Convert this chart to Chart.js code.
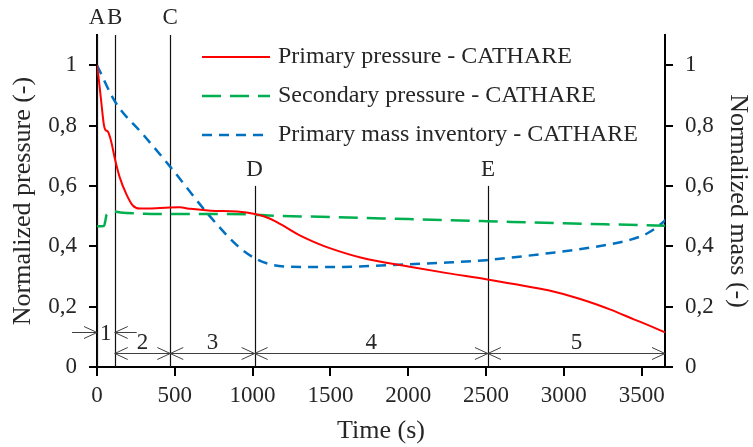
<!DOCTYPE html>
<html>
<head>
<meta charset="utf-8">
<script src="https://cdn.jsdelivr.net/npm/chart.js@4/dist/chart.umd.min.js"></script>
<style>
  html, body { margin:0; padding:0; background:#fff; }
</style>
</head>
<body>
<canvas id="chart" width="753" height="447"></canvas>
<script>

const FONT = "'Liberation Serif', 'Times New Roman', serif";
const INK = "#262626";

/* primary pressure (left axis) */
const timeP = [0, 10, 25, 45, 55, 70, 90, 115, 145, 190, 230, 275, 380, 530, 600, 730, 900, 1015, 1080, 1150, 1220, 1300, 1400, 1500, 1700, 2000, 2250, 2500, 2700, 2900, 3100, 3300, 3450, 3550, 3650];
const primaryP = [1.0, 0.96, 0.89, 0.80, 0.785, 0.78, 0.75, 0.69, 0.63, 0.571, 0.535, 0.525, 0.526, 0.529, 0.524, 0.518, 0.515, 0.507, 0.498, 0.482, 0.461, 0.437, 0.413, 0.393, 0.362, 0.333, 0.311, 0.291, 0.273, 0.254, 0.226, 0.19, 0.158, 0.137, 0.115];

/* secondary pressure (left axis) */
const timeS = [0, 45, 52, 62, 110, 150, 300, 500, 800, 1000, 1100, 1500, 2000, 2500, 3000, 3500, 3650];
const secondaryP = [0.466, 0.467, 0.48, 0.505, 0.515, 0.512, 0.508, 0.507, 0.507, 0.505, 0.502, 0.497, 0.49, 0.483, 0.476, 0.47, 0.468];

/* primary mass inventory (right axis) */
const timeM = [0, 115, 300, 470, 700, 900, 1015, 1100, 1250, 1500, 1900, 2250, 2500, 2900, 3200, 3430, 3540, 3620, 3660];
const massInv = [1.0, 0.88, 0.768, 0.664, 0.515, 0.403, 0.36, 0.342, 0.332, 0.331, 0.338, 0.346, 0.354, 0.377, 0.398, 0.422, 0.444, 0.472, 0.49];

/* axes */
const xTicks = [0, 500, 1000, 1500, 2000, 2500, 3000, 3500];
const yTicks = [0, 0.2, 0.4, 0.6, 0.8, 1];
const yTickLabels = ["0", "0,2", "0,4", "0,6", "0,8", "1"];

/* events and phases */
const eventNames = ["A", "B", "C", "D", "E"];
const eventTimes = [0, 114, 471, 1013, 2512];
const phaseNames = ["1", "2", "3", "4", "5"];
const endTime = 3650;

function pairs(ts, vs){
   return ts.map(function(t, i){ return { x: t, y: vs[i] }; });
}

const eventLines = {

   id: "eventLines",

   beforeDatasetsDraw(chart){

      const { ctx, scales: { x, y } } = chart;

      ctx.save();
      ctx.strokeStyle = "#111";
      ctx.lineWidth = 1.2;

      eventTimes.forEach(function(t, i){
         const px = Math.round(x.getPixelForValue(t)) + 0.5;
         /* D and E lines start lower, under their letters */
         const top = i < 3 ? y.getPixelForValue(1.1) : y.getPixelForValue(0.6);
         ctx.beginPath();
         ctx.moveTo(px, top);
         ctx.lineTo(px, y.getPixelForValue(0));
         ctx.stroke();
      });

      ctx.restore();

   },

   afterDatasetsDraw(chart){

      const { ctx, scales: { x, y } } = chart;

      ctx.save();

      /* event letters */
      ctx.fillStyle = INK;
      ctx.font = "23px " + FONT;
      ctx.textAlign = "center";
      ctx.textBaseline = "middle";

      eventTimes.forEach(function(t, i){
         const ly = i < 3 ? y.getPixelForValue(1.155) : y.getPixelForValue(0.652);
         ctx.fillText(eventNames[i], x.getPixelForValue(t), ly);
      });

      /* phase arrows */
      ctx.strokeStyle = "#404040";
      ctx.lineWidth = 1;

      function head(px, py, dir){
         ctx.beginPath();
         ctx.moveTo(px - dir * 13, py - 6);
         ctx.lineTo(px, py);
         ctx.lineTo(px - dir * 13, py + 6);
         ctx.stroke();
      }

      function shaft(a, b, py){
         ctx.beginPath();
         ctx.moveTo(a, py);
         ctx.lineTo(b, py);
         ctx.stroke();
      }

      /* phase 1: arrows pointing in from outside */
      const y1 = Math.round(y.getPixelForValue(0.116)) + 0.5;
      const a0 = x.getPixelForValue(eventTimes[0]);
      const b0 = x.getPixelForValue(eventTimes[1]);
      shaft(a0 - 25, a0, y1);
      head(a0, y1, 1);
      shaft(b0, b0 + 22, y1);
      head(b0, y1, -1);
      ctx.fillText(phaseNames[0], (a0 + b0) / 2, y1 + 1);

      /* phases 2..5: double arrows between events */
      const y2 = Math.round(y.getPixelForValue(0.047)) + 0.5;
      const ly = y.getPixelForValue(0.081);

      for(let i = 1; i < phaseNames.length; i++){
         const a = x.getPixelForValue(eventTimes[i]);
         const b = x.getPixelForValue(i + 1 < eventTimes.length ? eventTimes[i + 1] : endTime);
         shaft(a, b, y2);
         head(a, y2, -1);
         head(b, y2, 1);
         ctx.fillText(phaseNames[i], (a + b) / 2, ly);
      }

      /* legend */
      ctx.font = "24px " + FONT;
      ctx.textAlign = "left";

      chart.data.datasets.forEach(function(ds, i){
         const ry = 57 + i * 39;
         ctx.strokeStyle = ds.borderColor;
         ctx.lineWidth = ds.borderWidth;
         ctx.setLineDash(ds.borderDash || []);
         ctx.beginPath();
         ctx.moveTo(202, ry);
         ctx.lineTo(270, ry);
         ctx.stroke();
         ctx.setLineDash([]);
         ctx.fillText(ds.label, 278, ry);
      });

      ctx.restore();

   }

};

function yAxis(pos){

   return {
      type: "linear",
      position: pos,
      min: 0,
      max: 1.1,
      afterBuildTicks: function(scale){
         scale.ticks = yTicks.map(function(v){ return { value: v }; });
      },
      afterFit: function(scale){
         scale.width = pos === "left" ? 97 : 88;
      },
      ticks: {
         color: INK,
         font: { family: FONT, size: 23 },
         padding: 12,
         callback: function(v, i){ return yTickLabels[i]; }
      },
      grid: {
         drawOnChartArea: false,
         color: "#000",
         lineWidth: 2,
         tickLength: 8
      },
      border: { color: "#000", width: 2 },
      title: {
         display: true,
         text: pos === "left" ? "Normalized pressure (-)" : "Normalized mass (-)",
         color: INK,
         font: { family: FONT, size: 26 },
         padding: { top: pos === "left" ? 8 : 0, bottom: 0 }
      }
   };

}

new Chart(document.getElementById("chart"), {

   type: "line",

   data: {
      datasets: [
         {
            label: "Primary pressure - CATHARE",
            data: pairs(timeP, primaryP),
            borderColor: "#FF0000",
            borderWidth: 2,
            yAxisID: "y"
         },
         {
            label: "Secondary pressure - CATHARE",
            data: pairs(timeS, secondaryP),
            borderColor: "#00B050",
            borderWidth: 2.5,
            borderDash: [19, 9],
            yAxisID: "y"
         },
         {
            label: "Primary mass inventory - CATHARE",
            data: pairs(timeM, massInv),
            borderColor: "#0070C0",
            borderWidth: 2.5,
            borderDash: [10, 7],
            yAxisID: "y1"
         }
      ]
   },

   options: {
      responsive: false,
      animation: false,
      layout: { padding: { top: 35, left: 0, right: 0, bottom: 0 } },
      elements: {
         point: { radius: 0 },
         line: { cubicInterpolationMode: "monotone", fill: false }
      },
      plugins: {
         legend: { display: false },
         tooltip: { enabled: false }
      },
      scales: {
         x: {
            type: "linear",
            min: 0,
            max: endTime,
            afterBuildTicks: function(scale){
               scale.ticks = xTicks.map(function(v){ return { value: v }; });
            },
            afterFit: function(scale){
               scale.height = 80;
            },
            ticks: {
               color: INK,
               font: { family: FONT, size: 23 },
               padding: 6,
               maxRotation: 0,
               callback: function(v){ return String(v); }
            },
            grid: {
               drawOnChartArea: false,
               color: "#000",
               lineWidth: 2,
               tickLength: 9
            },
            border: { color: "#000", width: 2 },
            title: {
               display: true,
               text: "Time (s)",
               color: INK,
               font: { family: FONT, size: 26 },
               padding: { top: 0, bottom: 0 }
            }
         },
         y: yAxis("left"),
         y1: yAxis("right")
      }
   },

   plugins: [eventLines]

});

</script>
</body>
</html>
